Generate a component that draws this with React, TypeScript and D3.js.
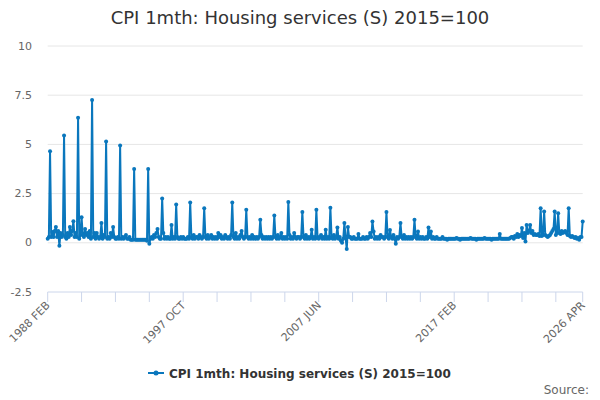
import React from 'react';
import * as d3 from 'd3';

// Monthly % change, one row per calendar year (1988 starts in FEB, 2026 ends in APR)
const values1988to1992 = [
  0.2, 0.3, 4.65, 0.3, 0.55, 0.3, 0.6, 0.8, 0.3, 0.6, -0.15,
  0.5, 0.3, 0.4, 5.45, 0.3, 0.2, 0.5, 0.3, 0.8, 0.4, 0.6, 1.1,
  0.3, 0.5, 0.3, 6.35, 0.2, 0.4, 1.3, 0.4, 0.3, 0.7, 0.4, 0.5,
  0.3, 0.6, 0.2, 7.25, 0.3, 0.5, 0.2, 0.5, 0.3, 0.2, 0.3, 1.0,
  0.2, 0.4, 0.3, 5.15, 0.2, 0.3, 0.2, 0.5, 0.3, 0.8, 0.3, 0.2,
];
const values1993to1997 = [
  0.2, 0.3, 0.2, 4.95, 0.2, 0.3, 0.2, 0.3, 0.4, 0.2, 0.2, 0.3,
  0.15, 0.15, 0.15, 3.75, 0.15, 0.15, 0.15, 0.15, 0.15, 0.15, 0.15, 0.15,
  0.15, 0.15, 0.1, 3.75, -0.05, 0.2, 0.3, 0.2, 0.4, 0.3, 0.5, 0.7,
  0.3, 0.2, 0.2, 2.25, 0.5, 0.2, 0.3, 0.2, 0.3, 0.2, 0.2, 0.9,
  0.2, 0.3, 0.2, 1.95, 0.3, 0.2, 0.2, 0.3, 0.2, 0.3, 0.2, 0.2,
];
const values1998to2002 = [
  0.2, 0.3, 0.2, 2.05, 0.3, 0.2, 0.4, 0.2, 0.3, 0.3, 0.2, 0.4,
  0.3, 0.2, 0.3, 1.75, 0.3, 0.2, 0.4, 0.2, 0.3, 0.4, 0.2, 0.3,
  0.2, 0.3, 0.2, 0.5, 0.3, 0.4, 0.2, 0.3, 0.2, 0.4, 0.3, 0.2,
  0.3, 0.2, 0.4, 2.05, 0.3, 0.2, 0.5, 0.2, 0.3, 0.2, 0.4, 0.6,
  0.3, 0.2, 0.3, 1.68, 0.3, 0.2, 0.3, 0.2, 0.4, 0.2, 0.3, 0.2,
];
const values2003to2007 = [
  0.3, 0.2, 0.3, 1.17, 0.4, 0.2, 0.3, 0.2, 0.3, 0.2, 0.3, 0.2,
  0.3, 0.2, 0.3, 1.39, 0.3, 0.2, 0.4, 0.2, 0.3, 0.5, 0.2, 0.3,
  0.2, 0.3, 0.2, 2.07, 0.4, 0.2, 0.3, 0.2, 0.5, 0.3, 0.2, 0.3,
  0.3, 0.2, 0.3, 1.57, 0.3, 0.2, 0.4, 0.2, 0.3, 0.2, 0.3, 0.66,
  0.2, 0.3, 0.2, 1.68, 0.3, 0.2, 0.3, 0.4, 0.2, 0.3, 0.2, 0.66,
];
const values2008to2012 = [
  0.2, 0.3, 0.2, 1.78, 0.3, 0.2, 0.4, 0.2, 0.3, 0.78, 0.2, 0.3,
  0.1, 0.0, 0.2, 1.0, 0.3, -0.32, 0.8, 0.3, 0.3, 0.2, 0.2, 0.3,
  0.2, 0.2, 0.2, 0.45, 0.2, 0.2, 0.2, 0.3, 0.2, 0.2, 0.3, 0.2,
  0.3, 0.5, 0.3, 1.08, 0.58, 0.2, 0.3, 0.2, 0.3, 0.2, 0.4, 0.3,
  0.3, 0.2, 0.3, 1.56, 0.3, 0.2, 0.65, 0.3, 0.2, 0.4, 0.2, -0.05,
];
const values2013to2017 = [
  0.3, 0.2, 0.3, 1.0, 0.3, 0.2, 0.4, 0.2, 0.3, 0.2, 0.3, 0.2,
  0.3, 0.2, 0.3, 1.17, 0.3, 0.2, 0.58, 0.2, 0.3, 0.2, 0.3, 0.2,
  0.2, 0.3, 0.2, 0.78, 0.3, 0.58, 0.2, 0.3, 0.2, 0.2, 0.3, 0.2,
  0.2, 0.2, 0.2, 0.3, 0.2, 0.2, 0.2, 0.15, 0.2, 0.2, 0.2, 0.2,
  0.2, 0.2, 0.2, 0.25, 0.2, 0.2, 0.15, 0.2, 0.2, 0.2, 0.2, 0.2,
];
const values2018to2022 = [
  0.2, 0.2, 0.2, 0.25, 0.2, 0.2, 0.2, 0.2, 0.15, 0.2, 0.2, 0.2,
  0.2, 0.2, 0.2, 0.25, 0.2, 0.2, 0.2, 0.2, 0.2, 0.15, 0.2, 0.2,
  0.2, 0.2, 0.2, 0.2, 0.45, 0.2, 0.2, 0.2, 0.2, 0.2, 0.2, 0.2,
  0.2, 0.25, 0.3, 0.3, 0.2, 0.35, 0.3, 0.45, 0.3, 0.4, 0.35, 0.75,
  0.25, 0.5, 0.07, 0.9, 0.5, 0.6, 0.9, 0.5, 0.6, 0.4, 0.45, 0.4,
];
const values2023to2026 = [
  0.4, 0.45, 0.35, 1.76, 0.35, 0.4, 1.59, 0.4, 0.35, 0.3, 0.35, 0.4,
  0.5, 0.6, 0.7, 1.59, 0.4, 0.5, 1.5, 0.5, 0.45, 0.6, 0.5, 0.55,
  0.6, 0.5, 0.4, 1.76, 0.35, 0.3, 0.35, 0.3, 0.25, 0.3, 0.2, 0.25,
  0.15, 0.3, 0.3, 1.08,
];

const seriesName = 'CPI 1mth: Housing services (S) 2015=100';
const startYear = 1988;
const startMonth = 1; // FEB, zero-based
const monthNames = ['JAN', 'FEB', 'MAR', 'APR', 'MAY', 'JUN', 'JUL', 'AUG', 'SEP', 'OCT', 'NOV', 'DEC'];
const yTicks = [-2.5, 0, 2.5, 5, 7.5, 10];
const xLabelEvery = 116;
const xTickEvery = 29;

const values = [
  ...values1988to1992,
  ...values1993to1997,
  ...values1998to2002,
  ...values2003to2007,
  ...values2008to2012,
  ...values2013to2017,
  ...values2018to2022,
  ...values2023to2026,
];
const categories = values.map((_, i) => {
  const m = startMonth + i;
  return `${startYear + Math.floor(m / 12)} ${monthNames[m % 12]}`;
});
const data = categories.map((category, i) => ({ category, value: values[i] }));

const width = 600;
const height = 400;
const margin = { top: 46, left: 47.7, right: 17.3, bottom: 108 };
const color = '#0a77bd';

export default function App() {
  const x = d3
    .scalePoint<string>()
    .domain(categories)
    .range([margin.left, width - margin.right]);
  const y = d3
    .scaleLinear()
    .domain([-2.5, 10])
    .range([height - margin.bottom, margin.top]);

  const line = d3
    .line<{ category: string; value: number }>()
    .x((d) => x(d.category) ?? 0)
    .y((d) => y(d.value));

  const last = categories.length - 1;
  const tickIdx = d3.range(0, last, xTickEvery).concat([last]);
  const labelIdx = d3.range(0, last - 20, xLabelEvery).concat([last]);
  const axisY = y(-2.5);
  const font = '"DejaVu Sans", sans-serif';

  return (
    <svg
      width={width}
      height={height}
      style={{ position: 'absolute', left: 0, top: 0, fontFamily: font }}
    >
      <rect width={width} height={height} fill="#fff" />
      <text x={300} y={24} textAnchor="middle" fontSize={18} fill="#333">
        {seriesName}
      </text>

      <g className="grid">
        {yTicks.map((t) => (
          <g key={t}>
            {t !== -2.5 && (
              <line
                x1={margin.left}
                x2={width - margin.right}
                y1={y(t)}
                y2={y(t)}
                stroke="#e6e6e6"
              />
            )}
            <text x={32} y={y(t)} dy="0.32em" textAnchor="end" fontSize={11} fill="#666">
              {t}
            </text>
          </g>
        ))}
      </g>

      <g className="x-axis">
        <line x1={margin.left} x2={width - margin.right} y1={axisY} y2={axisY} stroke="#ccd6eb" />
        {tickIdx.map((i) => (
          <line
            key={i}
            x1={x(categories[i])}
            x2={x(categories[i])}
            y1={axisY}
            y2={axisY + 10}
            stroke="#ccd6eb"
          />
        ))}
        {labelIdx.map((i) => (
          <text
            key={i}
            transform={`translate(${(x(categories[i]) ?? 0) + 3},${axisY + 14}) rotate(-45)`}
            textAnchor="end"
            fontSize={11}
            fill="#666"
          >
            {categories[i]}
          </text>
        ))}
      </g>

      <path d={line(data) ?? ''} fill="none" stroke={color} strokeWidth={2} strokeLinejoin="round" />
      <g className="markers">
        {data.map((d) => (
          <circle key={d.category} cx={x(d.category)} cy={y(d.value)} r={2} fill={color} />
        ))}
      </g>

      <g className="legend">
        <line x1={148} x2={164} y1={373} y2={373} stroke={color} strokeWidth={2} />
        <circle cx={156} cy={373} r={2.5} fill={color} />
        <text x={169} y={377.5} fontSize={12} fontWeight="bold" fill="#333">
          {seriesName}
        </text>
      </g>
      <text x={589} y={394} textAnchor="end" fontSize={12} fill="#666">
        Source:
      </text>
    </svg>
  );
}
